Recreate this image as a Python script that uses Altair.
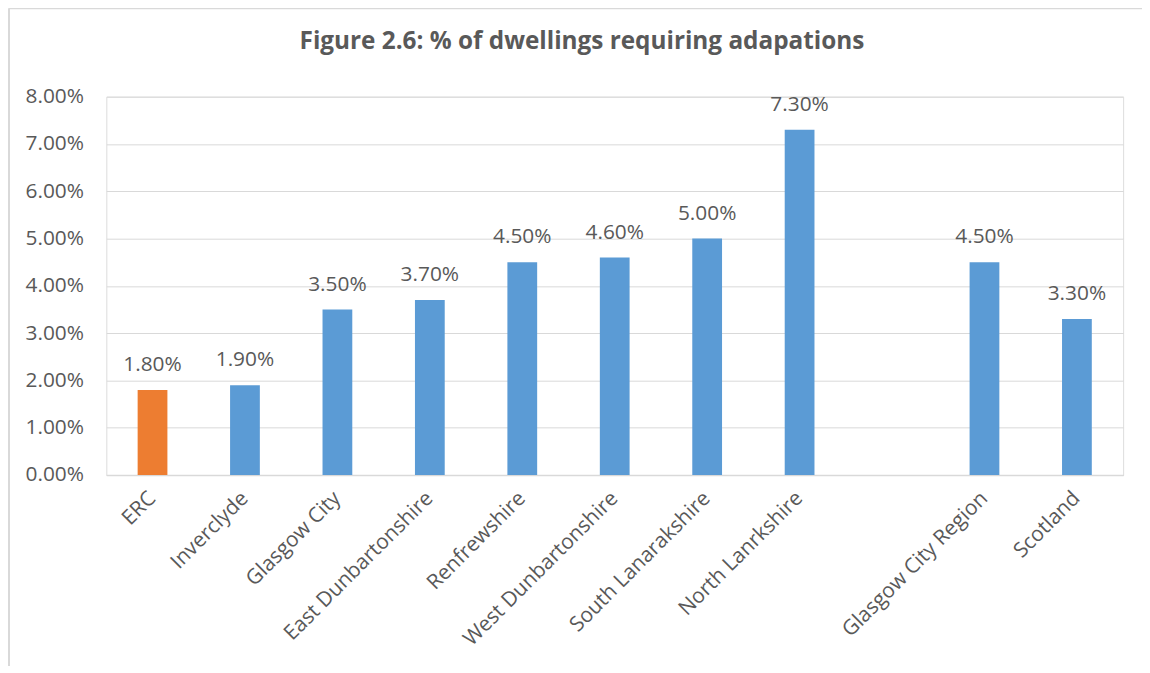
import altair as alt
import pandas as pd

areas = ["ERC", "Inverclyde", "Glasgow City", "East Dunbartonshire", "Renfrewshire",
         "West Dunbartonshire", "South Lanarakshire", "North Lanrkshire",
         "Glasgow City Region", "Scotland"]
values = [0.018, 0.019, 0.035, 0.037, 0.045, 0.046, 0.050, 0.073, 0.045, 0.033]
# axis order, with an empty slot between the councils and the region/national totals
axis_order = ["ERC", "Inverclyde", "Glasgow City", "East Dunbartonshire", "Renfrewshire",
              "West Dunbartonshire", "South Lanarakshire", "North Lanrkshire", " ",
              "Glasgow City Region", "Scotland"]
y_ticks = [0, 0.01, 0.02, 0.03, 0.04, 0.05, 0.06, 0.07, 0.08]

df = pd.DataFrame({"area": areas, "value": values})

FONT = "Open Sans"
TXT = "#595959"
GRID = "#D9D9D9"
FS = 21

x_enc = alt.X("area:N", sort=axis_order,
              scale=alt.Scale(domain=axis_order, paddingInner=0.678, paddingOuter=0.339),
              axis=alt.Axis(title=None, labelAngle=-45, labelAlign="right", labelBaseline="middle",
                            labelFontSize=FS, labelColor=TXT, labelFont=FONT, labelPadding=20,
                            labelLimit=0, ticks=False, domainColor=GRID, domainWidth=1.5,
                            grid=False, labelOverlap=False))
y_enc = alt.Y("value:Q", scale=alt.Scale(domain=[0, 0.08], nice=False),
              axis=alt.Axis(title=None, values=y_ticks, format=".2%", labelFontSize=FS,
                            labelColor=TXT, labelFont=FONT, labelPadding=23, ticks=False,
                            domain=False, gridColor=GRID, gridWidth=1))

base = alt.Chart(df)

bars = base.mark_bar().encode(
    x=x_enc, y=y_enc,
    color=alt.condition(alt.datum.area == "ERC", alt.value("#ED7D31"), alt.value("#5B9BD5")),
)

labels = base.mark_text(baseline="alphabetic", dy=-19, fontSize=FS, font=FONT, color=TXT).encode(
    x=alt.X("area:N", sort=axis_order), y="value:Q", text=alt.Text("value:Q", format=".2%"),
)

frame_df = pd.DataFrame({"k": [0]})
frame_left = alt.Chart(frame_df).mark_rule(color=GRID, strokeWidth=2).encode(
    x=alt.value(-98), y=alt.value(-89), y2=alt.value(600))
frame_top = alt.Chart(frame_df).mark_rule(color=GRID, strokeWidth=2).encode(
    x=alt.value(-98), x2=alt.value(1100), y=alt.value(-89))

chart = alt.layer(frame_left, frame_top, bars, labels).properties(
    width=1024, height=381,
    autosize=alt.AutoSizeParams(type="none"),
    padding={"left": 99, "top": 87, "right": 19, "bottom": 190},
    title=alt.TitleParams("Figure 2.6: % of dwellings requiring adapations", font=FONT,
                          fontSize=24.5, fontWeight="bold", color=TXT, anchor="middle",
                          frame="group", dx=-33, offset=-66, baseline="alphabetic"),
).configure_view(stroke=None).configure(background="white")

chart.save("out.html", embed_options={"renderer": "svg", "actions": False})
